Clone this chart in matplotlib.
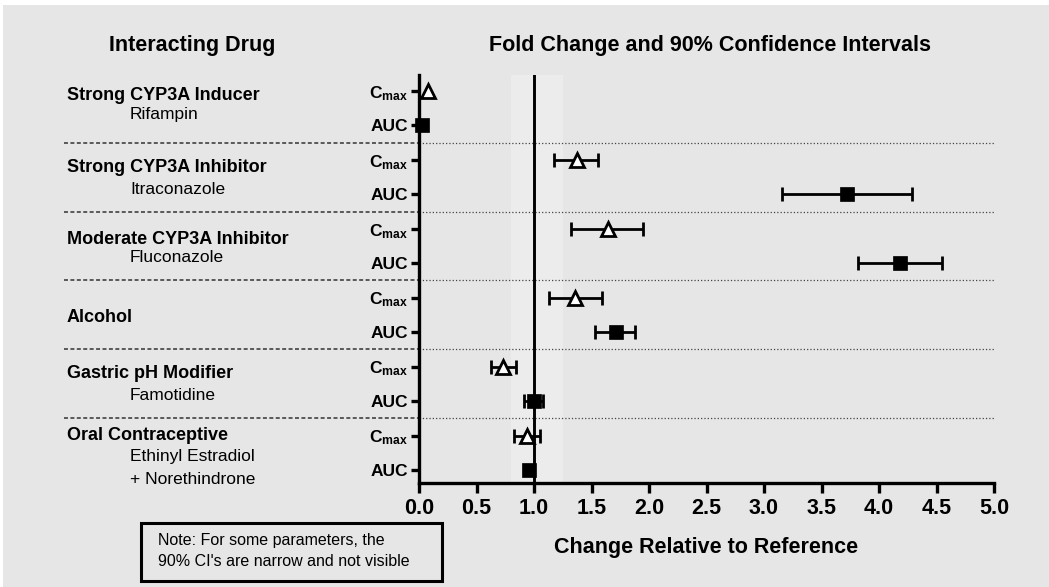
import matplotlib
matplotlib.use('Agg')
import matplotlib.pyplot as plt
from matplotlib.patches import Rectangle
from matplotlib.lines import Line2D
from matplotlib.transforms import blended_transform_factory

plt.rcParams['font.family'] = ['Liberation Sans', 'DejaVu Sans']
plt.rcParams['mathtext.fontset'] = 'custom'
plt.rcParams['mathtext.rm'] = 'Liberation Sans'
plt.rcParams['mathtext.bf'] = 'Liberation Sans:bold'
plt.rcParams['mathtext.it'] = 'Liberation Sans:italic'

# ---------------- data ----------------
groups = ["Strong CYP3A Inducer", "Strong CYP3A Inhibitor", "Moderate CYP3A Inhibitor",
          "Alcohol", "Gastric pH Modifier", "Oral Contraceptive"]
drugs = [["Rifampin"], ["Itraconazole"], ["Fluconazole"], [], ["Famotidine"],
         ["Ethinyl Estradiol", "+ Norethindrone"]]
param_labels = [r"$\mathbf{C_{max}}$", "AUC"]

cmax_est = [0.08, 1.37, 1.64, 1.36, 0.73, 0.94]
cmax_lo = [0.08, 1.17, 1.32, 1.13, 0.63, 0.83]
cmax_hi = [0.08, 1.56, 1.95, 1.59, 0.84, 1.05]
auc_est = [0.03, 3.72, 4.18, 1.71, 1.00, 0.96]
auc_lo = [0.03, 3.16, 3.82, 1.53, 0.91, 0.96]
auc_hi = [0.03, 4.29, 4.55, 1.88, 1.08, 0.96]

ref_low, ref_high = 0.80, 1.25
xticks = [0.0, 0.5, 1.0, 1.5, 2.0, 2.5, 3.0, 3.5, 4.0, 4.5, 5.0]

# ---------------- figure ----------------
W, H = 1049, 587
fig = plt.figure(figsize=(W / 100, H / 100), dpi=100)
fig.patch.set_facecolor('white')
BG = '#e6e6e6'
fig.add_artist(Rectangle((3 / W, 0), 1 - 3 / W, 1 - 5 / H, transform=fig.transFigure,
                         facecolor=BG, edgecolor='none', zorder=-10))


def fx(px):
    return px / W


def fy(py):
    return 1 - py / H


ax = fig.add_axes([fx(419), fy(483), fx(994) - fx(419), fy(75) - fy(483)])
ax.patch.set_visible(False)

n_rows = 2 * len(groups)
ax.set_xlim(0, 5)
ax.set_ylim(n_rows - 1 + 0.377, -0.464)

# reference band and line
ax.axvspan(ref_low, ref_high, color='#ececec', zorder=0, lw=0)
ax.axvline(1.0, color='black', lw=2.1, zorder=2)

# separators
seps = [2 * g + 1.5 for g in range(len(groups) - 1)]
ax.hlines(seps, 0, 5, colors='#444444', linestyles=':', lw=0.9, zorder=1)
blend = blended_transform_factory(fig.transFigure, ax.transData)
for s in seps:
    ln = Line2D([fx(64), fx(419)], [s, s], transform=blend, color='#333333',
                lw=1.1, linestyle=(0, (2.6, 1.6)), clip_on=False)
    ax.add_line(ln)

# data
for g in range(len(groups)):
    yc = 2 * g
    ya = 2 * g + 1
    if cmax_hi[g] > cmax_lo[g]:
        ax.errorbar(cmax_est[g], yc,
                    xerr=[[cmax_est[g] - cmax_lo[g]], [cmax_hi[g] - cmax_est[g]]],
                    fmt='none', ecolor='black', elinewidth=2.0, capsize=5, capthick=2.0, zorder=3)
    if auc_hi[g] > auc_lo[g]:
        ax.errorbar(auc_est[g], ya,
                    xerr=[[auc_est[g] - auc_lo[g]], [auc_hi[g] - auc_est[g]]],
                    fmt='none', ecolor='black', elinewidth=2.0, capsize=5, capthick=2.0, zorder=3)
    ax.plot(cmax_est[g], yc, marker='^', markersize=9.5, markerfacecolor='white',
            markeredgecolor='black', markeredgewidth=2.0, linestyle='none', zorder=5, clip_on=False)
    ax.plot(auc_est[g], ya, marker='s', markersize=10, markerfacecolor='black',
            markeredgecolor='black', markeredgewidth=0.5, linestyle='none', zorder=5, clip_on=False)

# axes styling
for side in ['top', 'right']:
    ax.spines[side].set_visible(False)
ax.spines['left'].set_linewidth(2.4)
ax.spines['bottom'].set_linewidth(2.4)
ax.spines['bottom'].set_bounds(0, 5)

ax.set_yticks(range(n_rows))
ax.set_yticklabels(param_labels * len(groups), fontsize=12.5, fontweight='bold')
ax.tick_params(axis='y', direction='out', length=6, width=2.4, pad=2)
ax.set_xticks(xticks)
ax.set_xticklabels([f"{v:.1f}" for v in xticks], fontsize=15.5, fontweight='bold')
ax.tick_params(axis='x', direction='out', length=7, width=2.4, pad=4)

# headers
fig.text(fx(192), fy(46), "Interacting Drug", ha='center', va='center',
         fontsize=15.5, fontweight='bold')
fig.text(fx(710), fy(46), "Fold Change and 90% Confidence Intervals", ha='center', va='center',
         fontsize=15.5, fontweight='bold')
fig.text(fx(706), fy(548), "Change Relative to Reference", ha='center', va='center',
         fontsize=15.5, fontweight='bold')

# group labels (pixel centres)
group_y = [96, 167, 239, 317, 374, 435]
sub_y = [[115], [190], [258], [], [396], [457, 479]]
for g in range(len(groups)):
    fig.text(fx(67), fy(group_y[g]), groups[g], ha='left', va='center',
             fontsize=13, fontweight='bold')
    for name, yy in zip(drugs[g], sub_y[g]):
        fig.text(fx(130), fy(yy), name, ha='left', va='center', fontsize=12.5)

# note box
fig.add_artist(Rectangle((fx(141), fy(581)), fx(442) - fx(141), fy(523) - fy(581),
                         transform=fig.transFigure, facecolor='none', edgecolor='black', lw=2.2))
fig.text(fx(158), fy(541), "Note: For some parameters, the", ha='left', va='center', fontsize=11.5)
fig.text(fx(158), fy(561), "90% CI's are narrow and not visible", ha='left', va='center', fontsize=11.5)

fig.savefig('out.png', dpi=100, facecolor=fig.get_facecolor())
